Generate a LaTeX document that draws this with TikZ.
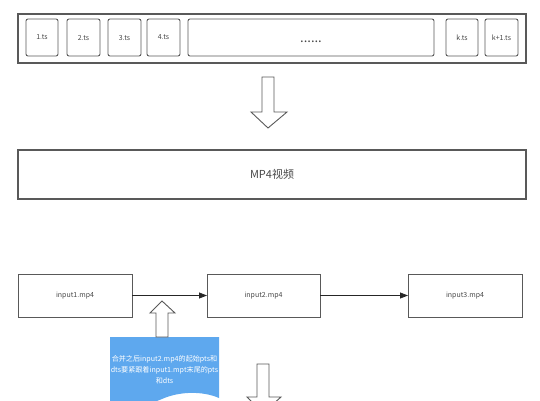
\documentclass[tikz,border=0pt]{standalone}
\usepackage{fontspec}
\newfontfamily\cjk{Noto Sans CJK SC}
\usetikzlibrary{arrows.meta}

\definecolor{linegray}{RGB}{89,89,89}
\definecolor{textgray}{RGB}{70,70,70}
\definecolor{noteblue}{RGB}{94,168,238}

\tikzset{
    tsbox/.style={draw=linegray, line width=0.9pt, rounded corners=2pt, inner sep=0pt, outer sep=0pt,
        text=textgray, font=\cjk\fontsize{7}{8}\selectfont},
    bigbox/.style={draw=linegray, line width=1.3pt, inner sep=0pt, outer sep=0pt,
        text=textgray, font=\cjk\fontsize{11}{13}\selectfont},
    mpbox/.style={draw=linegray, line width=0.9pt, inner sep=0pt, outer sep=0pt,
        minimum width=114pt, minimum height=43pt, text=textgray, font=\cjk\fontsize{7}{8}\selectfont},
    blockarrow/.style={draw=linegray, line width=0.9pt, fill=white, line join=miter},
    flow/.style={draw=black!85, line width=0.8pt, -{Triangle[length=8pt, width=6pt]}}
}

\begin{document}
\begin{tikzpicture}[x=1pt, y=-1pt]
    \useasboundingbox (0,0) rectangle (540,400);
    \clip (0,0) rectangle (540,400);

    % ts files
    \node[bigbox, minimum width=508pt, minimum height=49pt] (tsrow) at (272,38.5){};
    \node[tsbox, minimum width=32pt, minimum height=37pt] (ts1) at (42,37.5){1.ts};
    \node[tsbox, minimum width=33pt, minimum height=37pt] (ts2) at (83.5,37.5){2.ts};
    \node[tsbox, minimum width=33pt, minimum height=37pt] (ts3) at (124.5,37.5){3.ts};
    \node[tsbox, minimum width=33pt, minimum height=37pt] (ts4) at (163.5,37.5){4.ts};
    \node[tsbox, minimum width=246pt, minimum height=37pt] (tsdots) at (311,37.5){};
    \node[text=textgray, font=\cjk\fontsize{13}{13}\selectfont, inner sep=0pt] (dots) at (311,42){......};
    \node[tsbox, minimum width=32pt, minimum height=37pt] (tsk) at (462,37.5){k.ts};
    \node[tsbox, minimum width=33pt, minimum height=37pt] (tsk1) at (501.5,37.5){k+1.ts};

    % down arrow
    \draw[blockarrow] (262,77) -- (274,77) -- (274,112) -- (287,112) -- (268,128)
        -- (251,112) -- (262,112) -- cycle;

    % mp4 video
    \node[bigbox, minimum width=508pt, minimum height=49pt] (video) at (272,174.5){MP4视频};

    % inputs
    \node[mpbox] (in1) at (75,295.5){input1.mp4};
    \node[mpbox, minimum width=113pt] (in2) at (263.5,295.5){input2.mp4};
    \node[mpbox] (in3) at (465,295.5){input3.mp4};
    \draw[flow] (in1) -- (in2);
    \draw[flow] (in2) -- (in3);

    % note
    \fill[noteblue] (110,337) -- (219,337) -- (219,398)
        .. controls (203,391) and (180,391) .. (162,399)
        .. controls (145,406) and (125,410) .. (110,408) -- cycle;
    \node[text=white, align=center, font=\cjk\fontsize{7.1}{11}\selectfont, inner sep=0pt] (note) at (164.5,370)
        {合并之后input2.mp4的起始pts和\\dts要紧跟着input1.mpt末尾的pts\\和dts};

    % up arrow
    \draw[blockarrow] (156,337) -- (168,337) -- (168,313) -- (175,313) -- (162,301)
        -- (150,313) -- (156,313) -- cycle;

    % down arrow
    \draw[blockarrow] (257,364) -- (269,364) -- (269,397) -- (281,397) -- (263,413)
        -- (247,397) -- (257,397) -- cycle;
\end{tikzpicture}
\end{document}
